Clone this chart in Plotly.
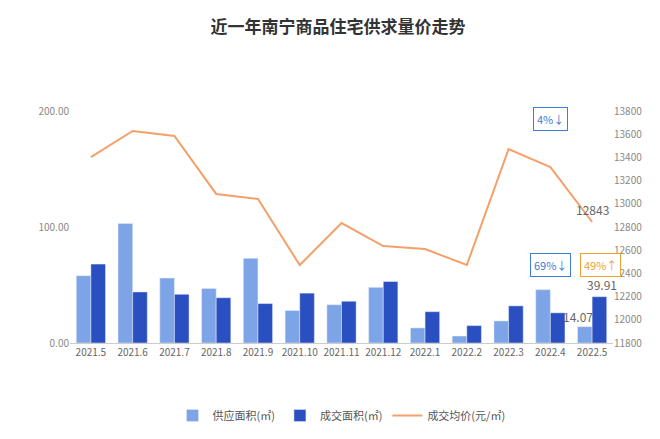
import plotly.graph_objects as go

months = ["2021.5", "2021.6", "2021.7", "2021.8", "2021.9", "2021.10", "2021.11", "2021.12",
          "2022.1", "2022.2", "2022.3", "2022.4", "2022.5"]
supply = [58, 103, 56, 47, 73, 28, 33, 48, 13, 6, 19, 46, 14.07]
deal = [68, 44, 42, 39, 34, 43, 36, 53, 27, 15, 32, 26, 39.91]
price = [13403, 13628, 13585, 13085, 13041, 12472, 12834, 12636, 12610, 12472, 13472, 13317, 12843]

font = "Noto Sans CJK SC"
n = len(months)
fig = go.Figure()
fig.add_trace(go.Bar(x=months, y=supply, name="供应面积(㎡)", marker_color="#7ea4e8"))
fig.add_trace(go.Bar(x=months, y=deal, name="成交面积(㎡)", marker_color="#2a4fc0"))
fig.add_trace(go.Scatter(x=months, y=price, name="成交均价(元/㎡)", yaxis="y2", mode="lines",
                         line=dict(color="#f4a06a", width=2)))

lab = dict(showarrow=False, font=dict(color="#666", size=12))
fig.add_annotation(x=n - 1, y=supply[-1], yanchor="bottom", xshift=-14, text=f"{supply[-1]:.2f}", **lab)
fig.add_annotation(x=n - 1, y=deal[-1], yanchor="bottom", xshift=10, yshift=2, text=f"{deal[-1]:.2f}", **lab)
fig.add_annotation(x=n - 1, y=price[-1], yref="y2", yanchor="bottom", yshift=2, text=f"{price[-1]}", **lab)

box = dict(showarrow=False, borderwidth=1, borderpad=3, bgcolor="white", yref="y2")
fig.add_annotation(x=n - 2, y=13730, text="4%↓", font=dict(color="#3b7ed8", size=11),
                   bordercolor="#3b7ed8", **box)
fig.add_annotation(x=n - 2, y=12470, text="69%↓", font=dict(color="#3b7ed8", size=11),
                   bordercolor="#3b7ed8", **box)
fig.add_annotation(x=n - 1, y=12470, text="49%↑", xshift=8, font=dict(color="#f0a030", size=11),
                   bordercolor="#f0a030", **box)

fig.update_layout(
    width=660, height=439,
    title=dict(text="<b>近一年南宁商品住宅供求量价走势</b>", x=0.5, y=0.97, yanchor="top",
               font=dict(size=17, color="#333", family=font)),
    font=dict(family=font, color="#666", size=11),
    plot_bgcolor="white", paper_bgcolor="white",
    margin=dict(l=62, r=55, t=103, b=104),
    bargap=0.3, bargroupgap=0,
    xaxis=dict(type="category", range=[-0.5, n - 0.5], tickfont=dict(size=10), showline=True,
               linecolor="#ccc", ticks=""),
    yaxis=dict(range=[0, 200], tickvals=[0, 100, 200], tickformat=".2f", showgrid=False,
               zeroline=False, tickfont=dict(size=10, color="#888")),
    yaxis2=dict(overlaying="y", side="right", range=[11800, 13800], dtick=200, tickformat="d",
                showgrid=False, tickfont=dict(size=10, color="#888")),
    legend=dict(orientation="h", x=0.5, xanchor="center", y=-0.25, yanchor="top",
                font=dict(size=11, color="#555")),
)

fig.write_html("out.html")
